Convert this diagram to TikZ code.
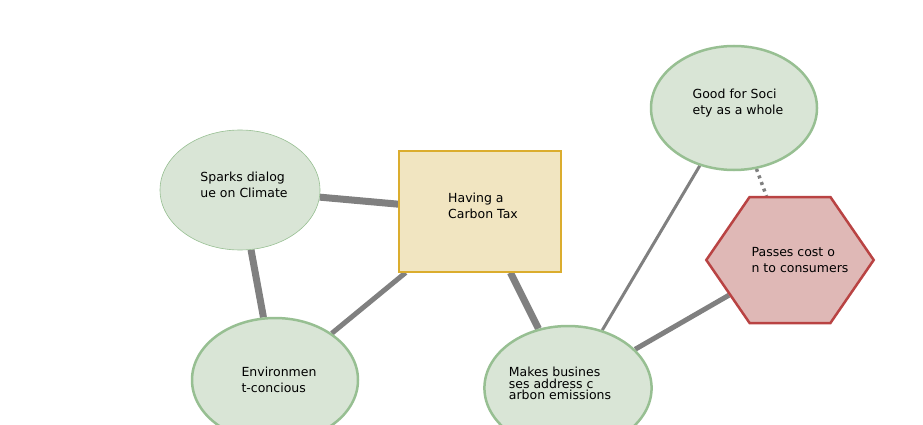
\documentclass[tikz,border=0pt]{standalone}
\usepackage{fontspec}
\setmainfont{DejaVu Sans}
\usetikzlibrary{shapes.geometric,shapes.symbols,backgrounds}

\definecolor{ideafill}{HTML}{D9E5D6}
\definecolor{ideadraw}{HTML}{97BF92}
\definecolor{taxfill}{HTML}{F1E5C1}
\definecolor{taxdraw}{HTML}{DBAD2E}
\definecolor{riskfill}{HTML}{DFB8B6}
\definecolor{riskdraw}{HTML}{B94343}
\definecolor{linkgray}{HTML}{808080}

\tikzset{
  idea/.style={ellipse, fill=ideafill, draw=ideadraw, line width=2.5pt,
    minimum width=166pt, minimum height=124pt, inner sep=0pt, align=left,
    font={\fontsize{12.5}{16}\selectfont}},
  link/.style={draw=linkgray, line width=#1},
  link/.default=3pt
}

\begin{document}
\begin{tikzpicture}[x=1pt,y=-1pt]
        \clip (0,0) rectangle (923,425);
        \node[idea, line width=0.6pt, minimum width=160pt, minimum height=120pt] (sparks) at (240,190) {\hspace*{8pt}Sparks dialog\\\hspace*{8pt}ue on Climate\\[-6pt]};
        \node[rectangle, fill=taxfill, draw=taxdraw, line width=1.2pt,
              minimum width=162pt, minimum height=121pt, align=left,
              font={\fontsize{12.5}{16}\selectfont}] (tax) at (480,211.5) {\hspace*{6pt}Having a\\\hspace*{6pt}Carbon Tax\\[-4pt]};
        \node[idea] (enviro) at (275,380) {\hspace*{8pt}Environmen\\\hspace*{8pt}t-concious};
        \node[idea, font={\fontsize{12.5}{11.5}\selectfont}] (business) at (568,388) {Makes busines\\ses address c\\arbon emissions\hspace*{16pt}\mbox{}\\[-2pt]};
        \node[idea] (society) at (734,108) {\hspace*{8pt}Good for Soci\\\hspace*{8pt}ety as a whole\\[-4pt]};
        \node[signal, signal to=west and east, signal pointer angle=111,
              fill=riskfill, draw=riskdraw, line width=2.5pt,
              minimum width=166pt, minimum height=126pt, inner xsep=-18pt, inner ysep=0pt, align=left,
              font={\fontsize{12.5}{16}\selectfont}] (cost) at (790,260) {\hspace*{20pt}Passes cost o\\\hspace*{20pt}n to consumers};

        \begin{scope}[on background layer]
        \draw[link=7pt] (sparks) -- (tax);
        \draw[link=7pt] (sparks) -- (enviro);
        \draw[link=5pt] (tax) -- (enviro);
        \draw[link=7pt] (tax) -- (business);
        \draw[link=3pt] (society) -- (business);
        \draw[link=5pt] (cost) -- (business);
        \draw[link=3.5pt, dash pattern=on 3pt off 4pt] (society) -- (cost);
        \end{scope}
    \end{tikzpicture}
\end{document}
